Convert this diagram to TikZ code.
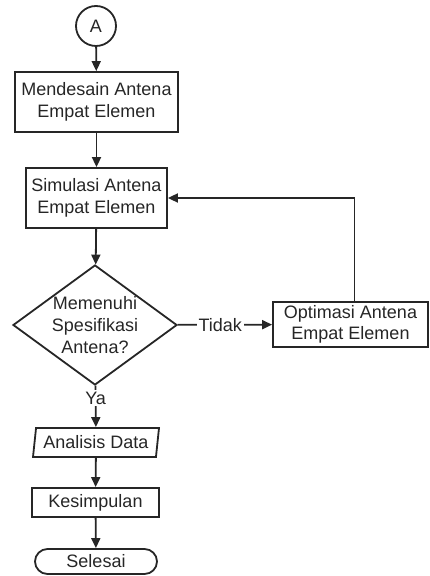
\documentclass[tikz,border=0pt]{standalone}
\usepackage{fontspec}
\setmainfont{Liberation Sans}
\usetikzlibrary{positioning,shapes.geometric,shapes.misc,arrows.meta}

\tikzstyle{every node}=[font=\fontsize{9}{10.8}\selectfont, inner sep=0pt, text=black!85, align=center]
\tikzstyle{cn} = [circle, draw, minimum size=20pt]
\tikzstyle{pn} = [rectangle, draw, minimum height=30pt]
\tikzstyle{dn} = [diamond, draw, shape aspect=1.37, inner sep=-1pt, minimum width=82pt, minimum height=60pt]
\tikzstyle{io} = [trapezium, draw, trapezium left angle=77, trapezium right angle=103, trapezium stretches body, minimum width=63pt, minimum height=14.5pt]
\tikzstyle{tn} = [rounded rectangle, draw, minimum width=61pt, minimum height=12.5pt]
\tikzstyle{ln} = [fill=white, inner sep=1pt]
\tikzstyle{arr} = [-{Triangle[length=5pt,width=4.5pt]}]

\begin{document}
\begin{tikzpicture}[x=0.5pt, y=-0.5pt, line width=0.9pt, draw=black!85]
  \useasboundingbox (0,0) rectangle (429,576);
  \node[cn] (A) at (96,26) {A};
  \node[pn, minimum width=81.5pt] (design) at (96.5,102) {Mendesain Antena\\Empat Elemen};
  \node[pn, minimum width=70.5pt] (sim) at (96.5,198) {Simulasi Antena\\Empat Elemen};
  \node[dn] (check) at (95,325) {Memenuhi\\Spesifikasi\\Antena?};
  \node[pn, minimum width=77.5pt, minimum height=22.5pt] (optim) at (350.5,324.5) {Optimasi Antena\\Empat Elemen};
  \node[io] (analysis) at (96,442.5) {Analisis Data};
  \node[pn, minimum width=63.5pt, minimum height=14.5pt] (concl) at (95.5,502.5) {Kesimpulan};
  \node[tn] (stop) at (96,561.5) {Selesai};

  \draw[arr] (A) -- (design);
  \draw[arr] (design) -- (sim);
  \draw[arr] (sim) -- (check);
  \draw[arr] (check) -- node[ln, pos=0.45] {Tidak} (optim);
  \draw[arr] ([xshift=2pt]optim.north) |- (sim.east);
  \draw[arr] (check) -- node[ln, pos=0.3] {Ya} (analysis);
  \draw[arr] (analysis) -- (concl);
  \draw[arr] (concl) -- (stop);
\end{tikzpicture}
\end{document}
